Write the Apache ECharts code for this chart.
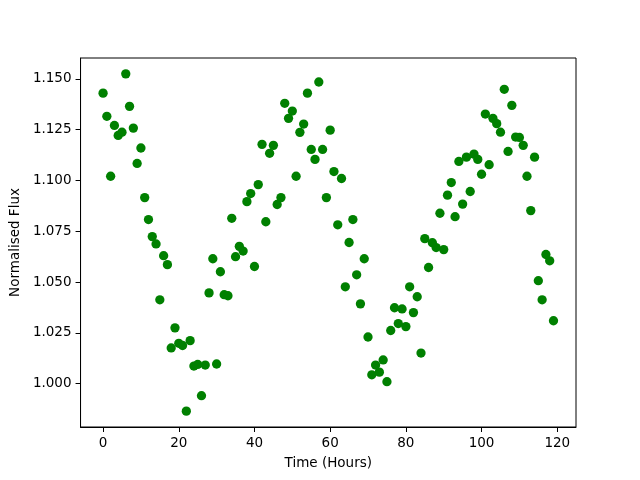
<!DOCTYPE html>
<html>
<head>
<meta charset="utf-8">
<script src="https://cdn.jsdelivr.net/npm/echarts@6/dist/echarts.min.js"></script>
<style>html,body{margin:0;padding:0;background:#fff}#c{width:640px;height:480px}</style>
</head>
<body>
<div id="c"></div>
<script>
const hours = [0,1,2,3,4,5,6,7,8,9,10,11,12,13,14,15,16,17,18,19,20,21,22,23,24,25,26,27,28,29,
30,31,32,33,34,35,36,37,38,39,40,41,42,43,44,45,46,47,48,49,50,51,52,53,54,55,56,57,58,59,
60,61,62,63,64,65,66,67,68,69,70,71,72,73,74,75,76,77,78,79,80,81,82,83,84,85,86,87,88,89,
90,91,92,93,94,95,96,97,98,99,100,101,102,103,104,105,106,107,108,109,110,111,112,113,114,115,116,117,118,119];
const flux = [1.143,1.1316,1.1021,1.1271,1.1222,1.1238,1.1525,1.1365,1.1258,1.1084,
1.116,1.0916,1.0808,1.0724,1.0688,1.0413,1.063,1.0586,1.0176,1.0275,
1.0199,1.0188,0.9865,1.0212,1.0087,1.0095,0.9941,1.0092,1.0447,1.0615,
1.0097,1.0551,1.0438,1.0433,1.0814,1.0625,1.0676,1.0653,1.0896,1.0936,
1.0577,1.098,1.1178,1.0797,1.1134,1.1173,1.0882,1.0916,1.138,1.1306,
1.1342,1.1021,1.1237,1.1278,1.143,1.1153,1.1104,1.1485,1.1153,1.0916,
1.1248,1.1044,1.0782,1.101,1.0477,1.0695,1.0808,1.0536,1.0393,1.0615,
1.023,1.0044,1.0092,1.0057,1.0117,1.001,1.0262,1.0374,1.0296,1.0368,
1.0281,1.0477,1.035,1.0428,1.0151,1.0714,1.0572,1.0694,1.067,1.0839,
1.066,1.0928,1.099,1.0822,1.1094,1.0884,1.1115,1.0946,1.113,1.1104,
1.1031,1.1327,1.1078,1.1306,1.128,1.1238,1.1449,1.1143,1.137,1.1214,
1.1212,1.1173,1.1021,1.0852,1.1115,1.0507,1.0413,1.0636,1.0605,1.031];
const xTicks = [0,20,40,60,80,100,120];
const yTicks = [1.000,1.025,1.050,1.075,1.100,1.125,1.150];

const font = 'DejaVu Sans';
const chart = echarts.init(document.getElementById('c'), null, {renderer:'canvas'});
const axisLine = {show:true, onZero:false, lineStyle:{color:'#000', width:1}};
chart.setOption({
  animation:false,
  backgroundColor:'#fff',
  grid:{left:80, right:64, top:58, bottom:53, show:true, borderColor:'#000', borderWidth:1, backgroundColor:'transparent'},
  xAxis:{
    type:'value', min:-5.95, max:124.95,
    name:'Time (Hours)', nameLocation:'middle', nameGap:29,
    nameTextStyle:{fontFamily:font, fontSize:13.5, color:'#000'},
    axisLine:axisLine,
    axisTick:{show:true, inside:false, length:5, lineStyle:{color:'#000'}, customValues:xTicks},
    axisLabel:{margin:9, fontFamily:font, fontSize:13.5, color:'#000', customValues:xTicks},
    splitLine:{show:false}
  },
  yAxis:{
    type:'value', min:0.9787, max:1.1603,
    name:'Normalised Flux', nameLocation:'middle', nameGap:53,
    nameTextStyle:{fontFamily:font, fontSize:13.5, color:'#000'},
    axisLine:axisLine,
    axisTick:{show:true, inside:false, length:5, lineStyle:{color:'#000'}, customValues:yTicks},
    axisLabel:{margin:9, fontFamily:font, fontSize:13.5, color:'#000', customValues:yTicks,
      formatter:v=>v.toFixed(3)},
    splitLine:{show:false}
  },
  series:[{
    type:'scatter',
    data:hours.map((h,i)=>[h, flux[i]]),
    symbol:'circle', symbolSize:9.3,
    itemStyle:{color:'#008000', opacity:1}
  }]
});
</script>
</body>
</html>
